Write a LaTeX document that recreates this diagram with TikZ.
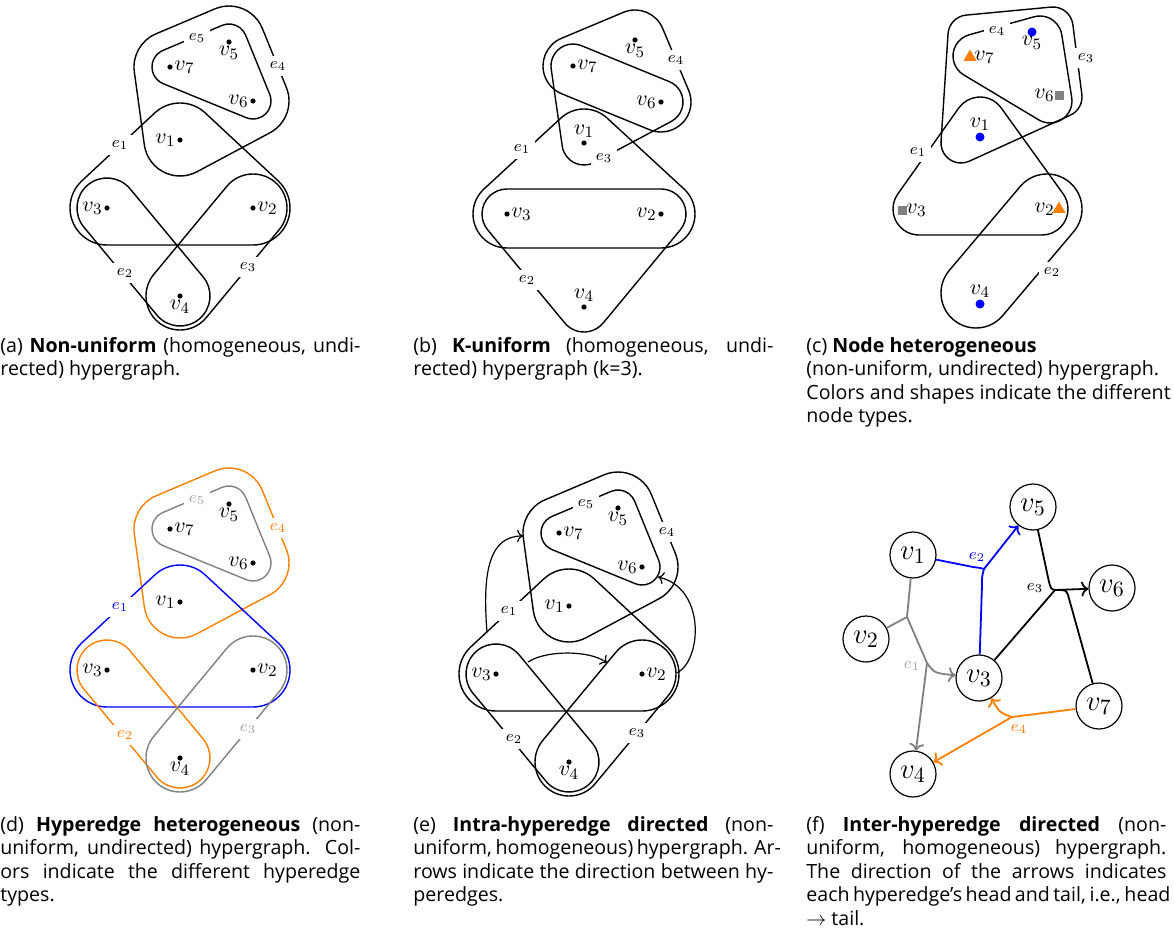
\documentclass[tikz,border=0pt]{standalone}
\usepackage{fontspec}
\newfontfamily\capfont{Open Sans}[Ligatures=TeX]
\usetikzlibrary{shapes.geometric,arrows.meta}
\definecolor{hOrange}{RGB}{255,127,0}
\definecolor{hBlue}{RGB}{0,0,255}
\definecolor{hGray}{RGB}{128,128,128}
\definecolor{hLGray}{RGB}{165,165,165}

\makeatletter
\newcommand\hull[3][]{%
  \foreach \hx/\hy [count=\hi] in {#3}{%
    \expandafter\xdef\csname hl@x\hi\endcsname{\hx}%
    \expandafter\xdef\csname hl@y\hi\endcsname{\hy}%
    \xdef\hl@n{\hi}}%
  \gdef\hl@path{}%
  \foreach \hi in {1,...,\hl@n}{%
    \pgfmathtruncatemacro\hl@p{\hi==1 ? \hl@n : \hi-1}%
    \pgfmathtruncatemacro\hl@q{\hi==\hl@n ? 1 : \hi+1}%
    \edef\hl@xi{\csname hl@x\hi\endcsname}%
    \edef\hl@yi{\csname hl@y\hi\endcsname}%
    \edef\hl@xp{\csname hl@x\hl@p\endcsname}%
    \edef\hl@yp{\csname hl@y\hl@p\endcsname}%
    \edef\hl@xq{\csname hl@x\hl@q\endcsname}%
    \edef\hl@yq{\csname hl@y\hl@q\endcsname}%
    \pgfmathsetmacro\hl@a{atan2(\hl@yp-(\hl@yi),\hl@xi-(\hl@xp))}%
    \pgfmathsetmacro\hl@b{atan2(\hl@yi-(\hl@yq),\hl@xq-(\hl@xi))}%
    \pgfmathsetmacro\hl@s{\hl@a-90}%
    \pgfmathsetmacro\hl@d{mod(\hl@b-(\hl@a)+720,360)}%
    \pgfmathsetmacro\hl@sx{\hl@xi+#2*cos(\hl@s)}%
    \pgfmathsetmacro\hl@sy{\hl@yi-#2*sin(\hl@s)}%
    \pgfmathsetmacro\hl@ms{-(\hl@s)}%
    \pgfmathsetmacro\hl@me{-(\hl@s)-\hl@d}%
    \ifnum\hi=1\relax
      \xdef\hl@path{(\hl@sx,\hl@sy) arc[start angle=\hl@ms,end angle=\hl@me,radius=#2]}%
    \else
      \xdef\hl@path{\hl@path -- (\hl@sx,\hl@sy) arc[start angle=\hl@ms,end angle=\hl@me,radius=#2]}%
    \fi
  }%
  \draw[#1] \hl@path -- cycle;%
}
\makeatother

\newcommand\jl[1]{\makebox[180pt][s]{#1}}

\tikzset{
  hedge/.style={line width=0.7pt},
  E1/.style={}, E2/.style={}, E3/.style={}, E4/.style={}, E5/.style={},
  L1/.style={}, L2/.style={}, L3/.style={}, L4/.style={}, L5/.style={},
  vdot/.style={circle, fill=black, inner sep=0pt, minimum size=2.6pt},
  vlab/.style={inner sep=1pt, font=\fontsize{11}{12}\selectfont},
  elab/.style={fill=white, inner sep=2.5pt, font=\fontsize{8.5}{10}\selectfont},
  captext/.style={anchor=north west, inner sep=0pt, align=left,
     font=\capfont\fontsize{9.8}{11.75}\selectfont},
  bluedot/.style={circle, fill=hBlue, inner sep=0pt, minimum size=4.5pt},
  oranget/.style={regular polygon, regular polygon sides=3, fill=hOrange, inner sep=0pt, minimum size=7.5pt},
  graysq/.style={rectangle, fill=hGray, inner sep=0pt, minimum size=4.5pt},
  vc/.style={circle, draw, line width=0.6pt, minimum size=23pt, inner sep=0pt, font=\fontsize{15}{16}\selectfont},
  fedge/.style={line width=0.9pt},
  flab/.style={inner sep=0.5pt, font=\fontsize{8}{9}\selectfont},
  earrow/.style={line width=0.6pt, ->},
}

% Panel (a)-type hypergraph
\newcommand\hgA[1]{%
  \hull[hedge,E5]{18}{170/67, 253/101, 229/42}
  \hull[hedge,E4]{36}{170/67, 180/140, 253/101, 229/42}
  \hull[hedge,E1]{37}{180/140, 107/208, 253/208}
  \hull[hedge,E2]{30}{107/208, 180/296}
  \hull[hedge,E3]{34}{253/208, 180/296}
  \node[elab,L5] (#1e5) at (197,38) {$e_5$};
  \node[elab,L4] (#1e4) at (278,66) {$e_4$};
  \node[elab,L1] (#1e1) at (120,145) {$e_1$};
  \node[elab,L2] (#1e2) at (125,273) {$e_2$};
  \node[elab,L3] (#1e3) at (248,267) {$e_3$};
  \node[vdot] (#1v5) at (229,42) {};
  \node[vdot] (#1v7) at (170,67) {};
  \node[vdot] (#1v6) at (253,101) {};
  \node[vdot] (#1v1) at (180,140) {};
  \node[vdot] (#1v3) at (107,208) {};
  \node[vdot] (#1v2) at (253,208) {};
  \node[vdot] (#1v4) at (180,296) {};
  \node[vlab,below=1pt] at (#1v5) {$v_5$};
  \node[vlab,right=1pt] at (#1v7) {$v_7$};
  \node[vlab,left=1pt] at (#1v6) {$v_6$};
  \node[vlab,left=1pt] at (#1v1) {$v_1$};
  \node[vlab,left=1pt] at (#1v3) {$v_3$};
  \node[vlab,right=1pt] at (#1v2) {$v_2$};
  \node[vlab,below=1pt] at (#1v4) {$v_4$};
}

\begin{document}
\begin{tikzpicture}[x=0.5pt,y=-0.5pt]
\useasboundingbox (0,0) rectangle (1174,942);

% ---------- (a)
\begin{scope}
\hgA{a}
\end{scope}

% ---------- (b)
\hull[hedge]{30}{573/66, 661/102, 635/40}
\hull[hedge]{22}{573/66, 584/143, 661/102}
\hull[hedge]{34}{584/143, 507/214, 661/214}
\hull[hedge]{25}{507/214, 584/307, 661/214}
\node[elab] (be4) at (676,60) {$e_4$};
\node[elab] (be3) at (604,158) {$e_3$};
\node[elab] (be1) at (522,149) {$e_1$};
\node[elab] (be2) at (527,280) {$e_2$};
\node[vdot] (bv5) at (635,40) {};
\node[vdot] (bv7) at (573,66) {};
\node[vdot] (bv6) at (661,102) {};
\node[vdot] (bv1) at (584,143) {};
\node[vdot] (bv3) at (507,214) {};
\node[vdot] (bv2) at (661,214) {};
\node[vdot] (bv4) at (584,307) {};
\node[vlab,below=1pt] at (bv5) {$v_5$};
\node[vlab,right=1pt] at (bv7) {$v_7$};
\node[vlab,left=1pt] at (bv6) {$v_6$};
\node[vlab,above=1.5pt] at (bv1) {$v_1$};
\node[vlab,right=1pt] at (bv3) {$v_3$};
\node[vlab,left=1pt] at (bv2) {$v_2$};
\node[vlab,above=1.5pt] at (bv4) {$v_4$};

% ---------- (c)
\hull[hedge]{22}{975/56, 1050/101, 1040/38}
\hull[hedge]{20}{968/35, 961/143, 1062/97, 1053/27}
\hull[hedge]{26}{980/123, 919/209, 1042/209}
\hull[hedge]{35}{1047/209, 976/293}
\node[elab] (ce4) at (997,31) {$e_4$};
\node[elab] (ce3) at (1086,58) {$e_3$};
\node[elab] (ce1) at (918,152) {$e_1$};
\node[elab] (ce2) at (1052,272) {$e_2$};
\node[bluedot] (cv5) at (1032,32) {};
\node[oranget] (cv7) at (970,57) {};
\node[graysq] (cv6) at (1059,95) {};
\node[bluedot] (cv1) at (980,137) {};
\node[graysq] (cv3) at (902,210) {};
\node[oranget] (cv2) at (1059,209) {};
\node[bluedot] (cv4) at (980,304) {};
\node[vlab,below=1pt] at (cv5) {$v_5$};
\node[vlab,right=1pt] at (cv7) {$v_7$};
\node[vlab,left=1pt] at (cv6) {$v_6$};
\node[vlab,above=2pt] at (cv1) {$v_1$};
\node[vlab,right=1pt] at (cv3) {$v_3$};
\node[vlab,left=1pt] at (cv2) {$v_2$};
\node[vlab,above=2pt] at (cv4) {$v_4$};

% ---------- (d)
\begin{scope}[shift={(0,462)},
  E1/.style={hBlue}, E2/.style={hOrange}, E3/.style={hGray}, E4/.style={hOrange}, E5/.style={hGray},
  L1/.style={text=hBlue}, L2/.style={text=hOrange}, L3/.style={text=hLGray}, L4/.style={text=hOrange}, L5/.style={text=hLGray}]
\hgA{d}
\end{scope}

% ---------- (e)
\begin{scope}[shift={(389,466)}]
\hgA{e}
\end{scope}
\coordinate (eA1) at (487,632);
\coordinate (eA2) at (523,536);
\coordinate (eB1) at (677,673);
\coordinate (eB2) at (658,577);
\coordinate (eC1) at (528,662);
\coordinate (eC2) at (607,663);
\draw[earrow] (eA1) .. controls (482,570) and (490,536) .. (eA2);
\draw[earrow] (eB1) .. controls (702,660) and (706,588) .. (eB2);
\draw[earrow] (eC1) .. controls (546,650) and (590,650) .. (eC2);

% ---------- (f)
\node[vc] (fv1) at (913,555) {$v_1$};
\node[vc] (fv2) at (866,639) {$v_2$};
\node[vc] (fv3) at (979,678) {$v_3$};
\node[vc] (fv4) at (913,774) {$v_4$};
\node[vc] (fv5) at (1033,507) {$v_5$};
\node[vc] (fv6) at (1112,588) {$v_6$};
\node[vc] (fv7) at (1099,706) {$v_7$};
\coordinate (J2) at (984,569);
\coordinate (J2a) at (973,567);
\coordinate (J2b) at (982,585);
\coordinate (J3) at (1055,590);
\coordinate (J3a) at (1049,582);
\coordinate (J3b) at (1068,595);
\coordinate (J1a) at (907,617);
\coordinate (J1b) at (927,663);
\coordinate (J4) at (1012,717);
% e2
\draw[fedge,hBlue] (fv1) -- (J2a) .. controls (981,568) .. (J2);
\draw[fedge,hBlue] (fv3) -- (J2b) .. controls (982,576) .. (J2);
\draw[fedge,hBlue,->] (J2) -- (fv5);
% e3
\draw[fedge] (fv5) -- (J3a) .. controls (1051,589) .. (J3);
\draw[fedge] (fv3) -- (J3);
\draw[fedge] (fv7) -- (J3b) .. controls (1066,590) .. (J3);
\draw[fedge,->] (J3) -- (fv6);
% e1
\draw[fedge,hGray] (fv1) -- (J1a);
\draw[fedge,hGray] (fv2) -- (J1a);
\draw[fedge,hGray] (J1a) -- (J1b);
\draw[fedge,hGray,->] (J1b) .. controls (934,673) .. (fv3);
\draw[fedge,hGray,->] (J1b) -- (fv4);
% e4
\draw[fedge,hOrange] (fv7) -- (J4);
\draw[fedge,hOrange,->] (J4) .. controls (1000,713) .. (fv3);
\draw[fedge,hOrange,->] (J4) -- (fv4);
\node[flab,text=hBlue] (fe2) at (977,557) {$e_2$};
\node[flab] (fe3) at (1035,588) {$e_3$};
\node[flab,text=hLGray] (fe1) at (912,666) {$e_1$};
\node[flab,text=hOrange] (fe4) at (1019,729) {$e_4$};

% ---------- captions
\node[captext] (capa) at (0,337) {\jl{(a) \textbf{Non-uniform} (homogeneous, undi-}\\ rected) hypergraph.};
\node[captext] (capb) at (413,337) {\jl{(b) \textbf{K-uniform} (homogeneous, undi-}\\ rected) hypergraph (k=3).};
\node[captext] (capc) at (806,337) {(c) \textbf{Node heterogeneous}\\ (non-uniform, undirected) hypergraph.\\ Colors and shapes indicate the different\\ node types.};
\node[captext] (capd) at (0,816) {\jl{(d) \textbf{Hyperedge heterogeneous} (non-}\\ \jl{uniform, undirected) hypergraph. Col-}\\ \jl{ors indicate the different hyperedge}\\ types.};
\node[captext] (cape) at (413,816) {\jl{(e) \textbf{Intra-hyperedge directed} (non-}\\ \jl{uniform, homogeneous) hypergraph. Ar-}\\ \jl{rows indicate the direction between hy-}\\ peredges.};
\node[captext] (capf) at (806,816) {\jl{(f) \textbf{Inter-hyperedge directed} (non-}\\ \jl{uniform, homogeneous) hypergraph.}\\ \jl{The direction of the arrows indicates}\\ \jl{each hyperedge’s head and tail, i.e., head}\\ $\rightarrow$ tail.};
\end{tikzpicture}
\end{document}
